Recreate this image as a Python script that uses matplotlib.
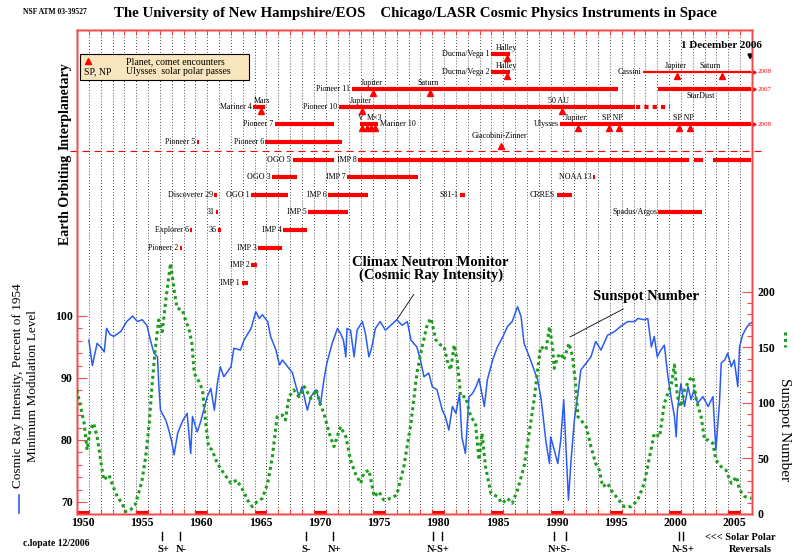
#!/usr/bin/env python3
"""Cosmic ray intensity, sunspot number and the UNH/Chicago instrument timeline."""
import numpy as np
import matplotlib
matplotlib.use("Agg")
import matplotlib.pyplot as plt
from matplotlib.lines import Line2D
from matplotlib.patches import Rectangle

plt.rcParams['font.family'] = ['Liberation Serif', 'DejaVu Serif']

# Climax neutron monitor, percent of 1954 minimum
cr_year = [1951.0, 1951.3, 1951.45, 1951.7, 1952.0, 1952.3, 1952.5, 1952.8, 1953.1, 1953.7,
           1954.2, 1954.7, 1955.1, 1955.5, 1955.9, 1956.2, 1956.5, 1956.8, 1956.9, 1957.05,
           1957.5, 1957.75, 1958.0, 1958.2, 1958.5, 1958.9, 1959.3, 1959.6, 1959.75, 1960.15,
           1960.4, 1960.7, 1961.0, 1961.3, 1961.6, 1961.85, 1962.1, 1962.4, 1963.0, 1963.25,
           1963.8, 1964.1, 1964.7, 1965.1, 1965.4, 1965.65, 1966.1, 1966.35, 1966.8, 1967.1,
           1967.35, 1967.8, 1968.2, 1968.5, 1968.75, 1969.0, 1969.45, 1969.75, 1970.2, 1970.55,
           1970.85, 1971.1, 1971.55, 1972.0, 1972.25, 1972.5, 1972.7, 1972.8, 1973.1, 1973.4,
           1973.65, 1974.1, 1974.35, 1974.65, 1974.9, 1975.2, 1975.6, 1976.05, 1976.5, 1977.0,
           1977.45, 1977.9, 1978.2, 1978.7, 1979.0, 1979.3, 1979.7, 1980.0, 1980.4, 1980.85,
           1981.1, 1981.4, 1981.7, 1982.0, 1982.3, 1982.5, 1982.8, 1983.1, 1983.4, 1983.7,
           1983.95, 1984.4, 1984.65, 1985.1, 1985.5, 1985.9, 1986.35, 1986.75, 1987.2, 1987.5,
           1987.75, 1988.2, 1988.5, 1988.9, 1989.2, 1989.45, 1989.6, 1989.9, 1990.0, 1990.3,
           1990.6, 1990.85, 1991.1, 1991.3, 1991.5, 1991.7, 1992.0, 1992.3, 1992.55, 1993.0,
           1993.4, 1993.8, 1994.25, 1994.8, 1995.4, 1995.9, 1996.5, 1997.1, 1997.35, 1997.9,
           1998.2, 1998.5, 1998.75, 1999.0, 1999.3, 1999.6, 1999.9, 2000.2, 2000.45, 2000.6,
           2000.7, 2001.0, 2001.3, 2001.6, 2001.85, 2002.1, 2002.4, 2002.85, 2003.3, 2003.7,
           2003.95, 2004.25, 2004.4, 2004.7, 2004.95, 2005.25, 2005.5, 2005.8, 2005.95, 2006.2,
           2006.5, 2006.8, 2007.0]
cr_val = [96.1, 92.0, 93.4, 95.6, 95.0, 94.2, 98.0, 97.0, 96.7, 97.5,
          99.1, 100.0, 99.1, 99.4, 98.5, 96.1, 94.0, 93.4, 89.1, 84.8,
          83.2, 81.6, 79.7, 77.6, 81.1, 83.0, 84.3, 77.8, 83.8, 81.3,
          82.7, 84.8, 87.0, 88.3, 84.8, 89.1, 91.8, 90.2, 91.8, 94.8,
          94.5, 96.1, 98.0, 100.7, 99.6, 100.2, 99.1, 96.7, 94.5, 92.1,
          92.9, 91.8, 90.8, 88.6, 87.0, 88.6, 84.8, 87.0, 88.1, 85.6,
          89.7, 92.4, 95.6, 98.0, 97.2, 96.1, 93.4, 98.0, 97.7, 93.4,
          97.7, 99.1, 97.2, 93.4, 95.0, 98.0, 99.1, 97.7, 98.5, 99.4,
          98.5, 99.1, 96.1, 95.0, 92.9, 90.2, 90.8, 88.6, 88.1, 84.8,
          83.8, 81.6, 85.4, 84.3, 87.5, 80.5, 77.8, 87.0, 87.5, 88.6,
          89.9, 85.4, 89.7, 92.9, 95.0, 96.4, 98.3, 99.1, 101.5, 99.9,
          95.6, 93.4, 91.8, 89.7, 86.5, 82.2, 79.7, 76.2, 80.5, 78.4,
          76.2, 80.0, 86.5, 78.4, 70.3, 76.2, 83.2, 87.5, 91.3, 92.4,
          93.4, 95.9, 94.5, 96.9, 97.5, 98.3, 99.1, 99.1, 99.6, 99.4,
          99.6, 95.0, 96.7, 93.4, 94.5, 95.3, 90.2, 86.5, 83.8, 80.5,
          84.8, 89.1, 85.4, 88.6, 86.5, 88.1, 85.9, 87.0, 85.4, 87.0,
          78.4, 85.9, 92.4, 92.9, 94.0, 91.8, 92.9, 88.6, 95.0, 96.9,
          98.0, 98.8, 98.9]

# sunspot number
ss_year = [1950.0, 1950.3, 1950.6, 1950.85, 1951.1, 1951.4, 1951.7, 1952.0, 1952.25, 1952.7,
           1953.0, 1953.4, 1953.8, 1954.1, 1954.5, 1954.9, 1955.2, 1955.5, 1955.8, 1956.1,
           1956.35, 1956.6, 1956.9, 1957.2, 1957.5, 1957.75, 1957.9, 1958.2, 1958.45, 1958.9,
           1959.2, 1959.45, 1959.7, 1959.9, 1960.3, 1960.6, 1960.85, 1961.1, 1961.4, 1961.85,
           1962.4, 1963.0, 1963.5, 1964.0, 1964.4, 1964.8, 1965.2, 1965.65, 1966.1, 1966.5,
           1966.9, 1967.35, 1967.6, 1967.9, 1968.3, 1968.75, 1969.2, 1969.75, 1970.2, 1970.5,
           1970.85, 1971.3, 1971.7, 1972.25, 1972.7, 1973.1, 1973.5, 1973.95, 1974.2, 1974.65,
           1975.1, 1975.5, 1975.9, 1976.5, 1977.0, 1977.6, 1978.2, 1978.7, 1979.15, 1979.6,
           1979.9, 1980.3, 1980.7, 1981.0, 1981.25, 1981.55, 1981.85, 1982.1, 1982.4, 1982.8,
           1983.25, 1983.65, 1983.95, 1984.2, 1984.5, 1984.95, 1985.5, 1985.9, 1986.35, 1986.75,
           1987.2, 1987.75, 1988.3, 1988.6, 1988.9, 1989.15, 1989.6, 1989.9, 1990.15, 1990.3,
           1990.6, 1990.85, 1991.1, 1991.55, 1991.85, 1992.1, 1992.3, 1992.55, 1993.0, 1993.4,
           1993.8, 1994.1, 1994.4, 1994.8, 1995.2, 1995.65, 1996.2, 1996.8, 1997.35, 1997.9,
           1998.3, 1998.75, 1999.2, 1999.6, 1999.9, 2000.2, 2000.45, 2000.7, 2001.0, 2001.3,
           2001.7, 2002.0, 2002.3, 2002.7, 2003.0, 2003.3, 2003.7, 2003.95, 2004.4, 2004.8,
           2005.25, 2005.7, 2005.95, 2006.4, 2006.95]
ss_val = [111.7, 96.7, 81.7, 57.7, 75.7, 81.7, 69.7, 48.6, 30.6, 35.1,
          26.1, 15.6, 9.6, 2.1, 3.6, 8.1, 18.6, 30.6, 51.7, 81.7,
          117.7, 147.7, 174.8, 164.3, 192.8, 213.8, 225.8, 201.8, 185.3, 183.8,
          173.3, 167.3, 153.8, 126.7, 119.2, 111.7, 84.7, 60.7, 57.7, 45.6,
          36.6, 27.6, 30.6, 21.6, 12.6, 6.6, 11.1, 14.1, 27.6, 51.7,
          87.7, 89.2, 84.7, 105.7, 111.7, 105.7, 114.7, 104.0, 112.0, 100.0,
          90.7, 72.7, 60.7, 78.7, 69.7, 48.6, 36.6, 27.6, 36.6, 39.6,
          15.6, 20.1, 12.6, 14.1, 17.1, 42.6, 81.7, 126.7, 150.8, 171.8,
          176.3, 156.8, 152.3, 150.8, 138.7, 129.7, 152.3, 138.7, 105.7, 105.7,
          87.7, 81.7, 48.6, 72.7, 42.6, 18.6, 15.6, 9.6, 14.1, 9.6,
          21.6, 42.6, 81.7, 102.7, 130.0, 150.8, 147.7, 168.8, 150.8, 131.2,
          141.7, 144.7, 138.7, 153.8, 141.7, 117.7, 87.7, 84.7, 78.7, 60.7,
          45.6, 39.6, 24.6, 27.6, 20.1, 14.1, 6.6, 6.6, 12.6, 27.6,
          48.6, 72.7, 69.7, 99.7, 108.7, 117.7, 134.2, 105.7, 96.7, 111.7,
          120.7, 123.7, 102.7, 87.7, 66.7, 66.7, 63.7, 48.6, 42.6, 39.6,
          27.6, 33.6, 21.6, 15.6, 14.1]

# instrument timeline: name, row (0 = top), start, end
bar_name = ["Ducma/Vega 1", "Ducma/Vega 2", "Cassini", "Pioneer 11", "StarDust",
            "Mariner 4", "Pioneer 10", "Pioneer 7", "Mariner 10", "Ulysses",
            "Pioneer 5", "Pioneer 6",
            "OGO 5", "IMP 8", "", "", "OGO 3", "IMP 7", "NOAA 13",
            "Discoverer 29", "OGO 1", "IMP 6", "S81-1", "CRRES",
            "31", "IMP 5", "Spadus/Argos", "Explorer 6", "36", "IMP 4",
            "Pioneer 2", "IMP 3", "IMP 2", "IMP 1"]
bar_row = [0, 1, 1, 2, 2, 3, 3, 4, 4, 4, 5, 5,
           6, 6, 6, 6, 7, 7, 7, 8, 8, 8, 8, 8, 9, 9, 9, 10, 10, 10, 11, 11, 12, 13]
bar_start = [1984.95, 1984.95, 1997.8, 1973.2, 1999.1, 1964.9, 1972.1, 1966.7, 1973.9, 1990.8,
             1960.1, 1965.9, 1968.2, 1973.7, 2002.1, 2003.7, 1966.5, 1972.8, 1993.6,
             1961.6, 1964.7, 1971.2, 1982.3, 1990.5, 1961.7, 1969.5, 1999.1, 1959.55, 1961.9,
             1967.4, 1958.7, 1965.3, 1964.7, 1963.9]
bar_end = [1986.6, 1986.6, 2006.9, 1995.7, 2006.9, 1965.9, 1997.1, 1971.7, 1975.4, 2006.9,
           1960.3, 1972.4, 1971.7, 2001.7, 2002.9, 2006.9, 1968.6, 1978.8, 1993.75,
           1961.85, 1967.8, 1974.6, 1982.8, 1991.8, 1961.9, 1972.9, 2002.8, 1959.75, 1962.15,
           1969.4, 1958.9, 1967.3, 1965.2, 1964.4]

# missions still running past the right edge
cont_row = [1, 2, 4]
cont_text = ["2008", "2007", "2008"]

# planet / comet encounters and Ulysses polar passes
enc_year = [1986.3, 1986.3, 2000.7, 2004.5, 1975.0, 1979.8, 1965.5, 1974.1, 1990.95,
            1974.1, 1974.45, 1974.85, 1975.2, 1992.3, 1994.9, 1995.75, 2000.85, 2001.8, 1985.8]
enc_row = [0, 1, 1, 1, 2, 2, 3, 3, 3, 4, 4, 4, 4, 4, 4, 4, 4, 4, 5]
enc_label = ["Halley", "Halley", "Jupiter", "Saturn", "Jupiter", "Saturn", "Mars", "Jupiter",
             "50 AU", "V", "M×3", "Jupiter", "SP NP", "SP NP", "Giacobini-Zinner"]
enc_label_year = [1986.3, 1986.3, 2000.6, 2003.5, 1974.9, 1979.65, 1965.65, 1973.95,
                  1990.7, 1974.0, 1975.1, 1992.1, 1995.25, 2001.2, 1985.7]
enc_label_row = [0, 1, 1, 1, 2, 2, 3, 3, 3, 4, 4, 4, 4, 4, 5]

# solar polar field reversals
rev_year = [1957.2, 1958.7, 1969.3, 1971.6, 1980.1, 1980.8, 1990.3, 1991.3, 2000.8, 2001.2]
rev_label = ["S+", "N-", "S-", "N+", "N-S+", "N+S-", "N-S+"]
rev_label_year = [1957.28, 1958.8, 1969.37, 1971.74, 1980.46, 1990.69, 2001.18]

year_labels = list(range(1950, 2006, 5))

W, H = 794, 557
RED = '#ff0000'
AXRED = '#f24a4a'
BLUE = '#2a5cf2'
GREEN = '#1c9e1c'


def fx(px):
    return px / W


def fy(py):
    return 1 - py / H


def row_y(r):
    return 54 + 17.6 * r


fig = plt.figure(figsize=(W / 100, H / 100), dpi=100)
ax = fig.add_axes([fx(77), fy(514), (752 - 77) / W, (514 - 30) / H])
ax.set_xlim(1950, 2007)
ax.set_ylim(514, 30)  # vertical layout in pixel rows
ax.set_yticks([])
ax.set_xticks(np.arange(1950, 2008))
ax.tick_params(axis='x', direction='in', length=3.6, width=0.8, color=AXRED,
               top=True, bottom=True, labelbottom=False)

ax_cr = ax.twinx()
ax_cr.set_ylim(68.06, 146.13)
ax_cr.yaxis.tick_left()
ax_cr.set_yticks([70, 80, 90, 100])
ax_cr.set_yticks([v for v in range(72, 100, 2) if v % 10], minor=True)
ax_cr.tick_params(which='major', direction='in', length=7.2, width=0.8, color=AXRED,
                  labelsize=8.5, pad=3)
ax_cr.tick_params(which='minor', direction='in', length=3.6, width=0.8, color=AXRED)

ax_ss = ax.twinx()
ax_ss.set_ylim(0, 436)
ax_ss.set_yticks([0, 50, 100, 150, 200])
ax_ss.set_yticks([v for v in range(10, 200, 10) if v % 50], minor=True)
ax_ss.tick_params(which='major', direction='in', length=7.2, width=0.8, color=AXRED,
                  labelsize=8.5, pad=4)
ax_ss.tick_params(which='minor', direction='in', length=3.6, width=0.8, color=AXRED)

for a in (ax, ax_cr, ax_ss):
    for s in a.spines.values():
        s.set_color(AXRED)
        s.set_linewidth(1.0)
for lab in ax_cr.get_yticklabels() + ax_ss.get_yticklabels():
    lab.set_fontweight('bold')

# yearly dotted grid
ax.vlines(np.arange(1951, 2007), 31, 513, colors='#222222',
          linestyles=(0, (0.8, 2.2)), lw=0.7, zorder=0.5)
# thick bottom marks on the labelled years
for y0 in year_labels:
    ax.plot([y0, y0 + 1], [512.5, 512.5], color=RED, lw=2.2, solid_capstyle='butt',
            clip_on=False)
    ax.text(y0 + 0.5, 523, str(y0), ha='center', va='center', fontsize=8.5,
            fontweight='bold', clip_on=False)

# data
ax_cr.plot(cr_year, cr_val, color=BLUE, lw=1.1, zorder=3)
ax_ss.plot(ss_year, ss_val, color=GREEN, lw=2.2, linestyle=(0, (1, 1.1)), zorder=3)

# separator between interplanetary and earth orbiting
ax.plot([1949.4, 2008.05], [151, 151], color=RED, lw=0.8, ls=(0, (6.3, 4.5)), clip_on=False)

# mission bars
for name, r, x0, x1 in zip(bar_name, bar_row, bar_start, bar_end):
    y = row_y(r)
    lw = 1.6 if name == "Cassini" else 3.0
    ax.plot([x0, x1], [y, y], color=RED, lw=lw, solid_capstyle='butt', zorder=4)
    if not name:
        continue
    if name == "StarDust":
        ax.text((x0 + x1) / 2 - 0.3, y + 7, name, ha='center', va='center', fontsize=5.8)
    elif name == "Mariner 10":
        ax.text(x1 + 0.15, y, name, ha='left', va='center', fontsize=5.8)
    else:
        ax.text(x0 - 0.12, y, name, ha='right', va='center', fontsize=5.8)

# Pioneer 10 fading out
ax.plot([1997.2, 2000.1], [row_y(3), row_y(3)], color=RED, lw=3.0, ls=(0, (1, 1)))

for r, t in zip(cont_row, cont_text):
    y = row_y(r)
    ax.plot([2006.9, 2007.2], [y, y], color=RED, lw=0.8, clip_on=False)
    ax.plot(2007.2, y, marker='>', ms=2.5, color=RED, clip_on=False)
    ax.text(2007.5, y, t, color=RED, fontsize=5, va='center', clip_on=False)

ax.plot(enc_year, [row_y(r) + 4 for r in enc_row], ls='none', marker='^', ms=4.5,
        color=RED, zorder=5)
for t, x, r in zip(enc_label, enc_label_year, enc_label_row):
    ax.text(x, row_y(r) - 6, t, ha='center', va='center', fontsize=5.8)

# callouts for the two curves
ax.annotate("Climax Neutron Monitor\n(Cosmic Ray Intensity)", xy=(1976.99, 320),
            xytext=(1979.87, 269), ha='center', va='center', fontsize=10.5,
            fontweight='bold', linespacing=1.0,
            arrowprops=dict(arrowstyle='-', color='k', lw=0.6, shrinkA=8, shrinkB=0))
ax.annotate("Sunspot Number", xy=(1991.62, 337), xytext=(1998.05, 297),
            ha='center', va='center', fontsize=10.5, fontweight='bold',
            arrowprops=dict(arrowstyle='-', color='k', lw=0.6, shrinkA=4, shrinkB=0))

# solar polar reversals
for x in rev_year:
    ax.plot([x, x], [532, 540], color='k', lw=1.0, clip_on=False)
for t, x in zip(rev_label, rev_label_year):
    ax.text(x, 550, t, ha='center', va='center', fontsize=7.5, fontweight='bold',
            clip_on=False)
fig.text(fx(705), fy(538), "<<< Solar Polar", ha='left', va='center', fontsize=7.5,
         fontweight='bold')
fig.text(fx(750), fy(550), "Reversals", ha='center', va='center', fontsize=7.5,
         fontweight='bold')

# "now" marker
fig.text(fx(721), fy(45), "1 December 2006", ha='center', va='center', fontsize=8,
         fontweight='bold')
ax.annotate('', xy=(2006.85, 63), xytext=(2006.85, 52), annotation_clip=False,
            arrowprops=dict(arrowstyle='-|>', color='k', lw=1.6, mutation_scale=6))

# legend box
fig.add_artist(Rectangle((fx(80), fy(80)), (249 - 80) / W, 26 / H, transform=fig.transFigure,
                         facecolor='#f9e6bf', edgecolor='k', lw=0.8))
fig.add_artist(Line2D([fx(88)], [fy(61)], marker='^', ms=5, color=RED, ls='none'))
fig.text(fx(126), fy(61.5), "Planet, comet encounters", va='center', fontsize=7)
fig.text(fx(84), fy(72), "SP, NP", va='center', fontsize=7)
fig.text(fx(126), fy(72), "Ulysses  solar polar passes", va='center', fontsize=7)

# titles and side labels
fig.text(fx(415), fy(14), "The University of New Hampshire/EOS    "
         "Chicago/LASR Cosmic Physics Instruments in Space",
         ha='center', va='center', fontsize=10.7, fontweight='bold')
fig.text(fx(23), fy(12), "NSF ATM 03-39527", ha='left', va='center', fontsize=5.5,
         fontweight='bold')
fig.text(fx(23), fy(543), "c.lopate 12/2006", ha='left', va='center', fontsize=7,
         fontweight='bold')
fig.text(fx(65), fy(106), "Interplanetary", rotation=90, ha='center', va='center',
         fontsize=10, fontweight='bold')
fig.text(fx(66), fy(200), "Earth Orbiting", rotation=90, ha='center', va='center',
         fontsize=10, fontweight='bold')
fig.text(fx(18), fy(386), "Cosmic Ray Intensity, Percent of 1954", rotation=90,
         ha='center', va='center', fontsize=9.5)
fig.text(fx(33), fy(386), "Minimum Modulation Level", rotation=90,
         ha='center', va='center', fontsize=9.5)
fig.add_artist(Line2D([fx(19), fx(19)], [fy(495), fy(513)], color=BLUE, lw=1.2))
fig.text(fx(785), fy(430), "Sunspot Number", rotation=-90, ha='center', va='center',
         fontsize=11)
fig.add_artist(Line2D([fx(785), fx(785)], [fy(332), fy(347)], color=GREEN, lw=2.2,
                      ls=(0, (1, 1.1))))

fig.savefig("out.png", dpi=100)
